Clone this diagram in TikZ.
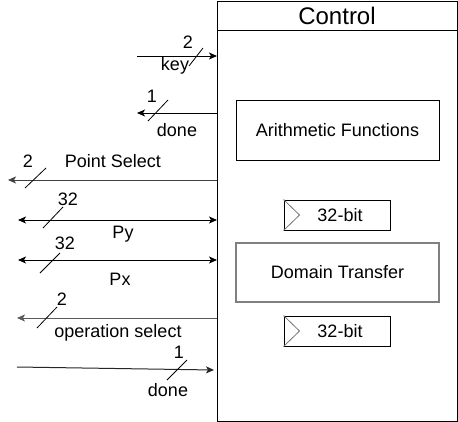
\documentclass[tikz,border=0pt]{standalone}
\usepackage{fontspec}
\setmainfont{Liberation Sans}
\usetikzlibrary{arrows.meta}
\begin{document}
\begin{tikzpicture}[x=1pt,y=-1pt,
  lbl/.style={inner sep=0pt,font=\fontsize{18}{20}\selectfont},
  wire/.style={line width=1pt,draw=black},
  tip/.style={-{Stealth[length=8pt,width=7pt,inset=2pt]}},
  dtip/.style={{Stealth[length=8pt,width=7pt,inset=2pt]}-{Stealth[length=8pt,width=7pt,inset=2pt]}},
  slash/.style={line width=0.8pt},
  box/.style={draw,line width=1pt,inner sep=0pt},
  regbox/.style={draw,line width=1pt,minimum width=106pt,minimum height=30pt,inner sep=0pt,font=\fontsize{18}{20}\selectfont}]
\useasboundingbox (0,0) rectangle (458,421);
% control box
\node[box,minimum width=240pt,minimum height=420pt,anchor=north west] (ctrl) at (217,0.5) {};
\draw[line width=1pt] (217,30) -- (457,30);
\node[inner sep=0pt,font=\fontsize{24}{26}\selectfont] (ctitle) at (337,16) {Control};
% inner blocks
\node[box,minimum width=203pt,minimum height=60pt] (arith) at (337.5,130) {};
\node[lbl] (arithT) at (337.5,130) {Arithmetic Functions};
\node[regbox] (r1) at (337,215) {\hspace*{6pt}32-bit};
\draw[line width=0.8pt,black!55] (r1.north west) -- ([xshift=16pt]r1.west) -- (r1.south west);
\node[box,draw=black!50,line width=1.6pt,minimum width=203pt,minimum height=59pt] (dom) at (337.5,272.5) {};
\node[lbl] (domT) at (337.5,272.5) {Domain Transfer};
\node[regbox] (r2) at (337,331) {\hspace*{6pt}32-bit};
\draw[line width=0.8pt,black!55] (r2.north west) -- ([xshift=16pt]r2.west) -- (r2.south west);
% endpoints
\coordinate (kA) at (137,56);   \coordinate (kB) at (217,56);
\coordinate (d1A) at (217,113); \coordinate (d1B) at (137,113);
\coordinate (psA) at (217,180); \coordinate (psB) at (8,180);
\coordinate (pyA) at (18,220);  \coordinate (pyB) at (217,220);
\coordinate (pxA) at (18,260);  \coordinate (pxB) at (217,260);
\coordinate (osA) at (217,318); \coordinate (osB) at (17,318);
\coordinate (d2A) at (17,367);  \coordinate (d2B) at (214,370);
% wires
\draw[wire,tip] (kA) -- (kB);
\draw[wire,tip] (d1A) -- (d1B);
\draw[wire,draw=black!75,tip] (psA) -- (psB);
\draw[wire,dtip] (pyA) -- (pyB);
\draw[wire,dtip] (pxA) -- (pxB);
\draw[wire,draw=black!65,tip] (osA) -- (osB);
\draw[wire,draw=black!85,tip] (d2A) -- (d2B);
% bus slashes
\draw[slash] (189,66) -- (203,48);
\draw[slash] (148,121) -- (168,100);
\draw[slash] (25,188) -- (46,168);
\draw[slash] (43,228) -- (63,207);
\draw[slash] (40,273) -- (60,253);
\draw[slash] (37,328) -- (57,307);
\draw[slash] (167,380) -- (187,360);
% labels
\node[lbl] (kW) at (188,42) {2};
\node[lbl] (kL) at (175,66) {key};
\node[lbl] (d1W) at (152,96) {1};
\node[lbl] (d1L) at (177,130) {done};
\node[lbl] (psW) at (28,161) {2};
\node[lbl] (psL) at (113,161) {Point Select};
\node[lbl] (pyW) at (68,199) {32};
\node[lbl] (pyL) at (123,234) {Py};
\node[lbl] (pxW) at (65,243) {32};
\node[lbl] (pxL) at (120,279) {Px};
\node[lbl] (osW) at (62,299) {2};
\node[lbl] (osL) at (118,333) {operation select};
\node[lbl] (d2W) at (179,352) {1};
\node[lbl] (d2L) at (168,390) {done};
\end{tikzpicture}
\end{document}
